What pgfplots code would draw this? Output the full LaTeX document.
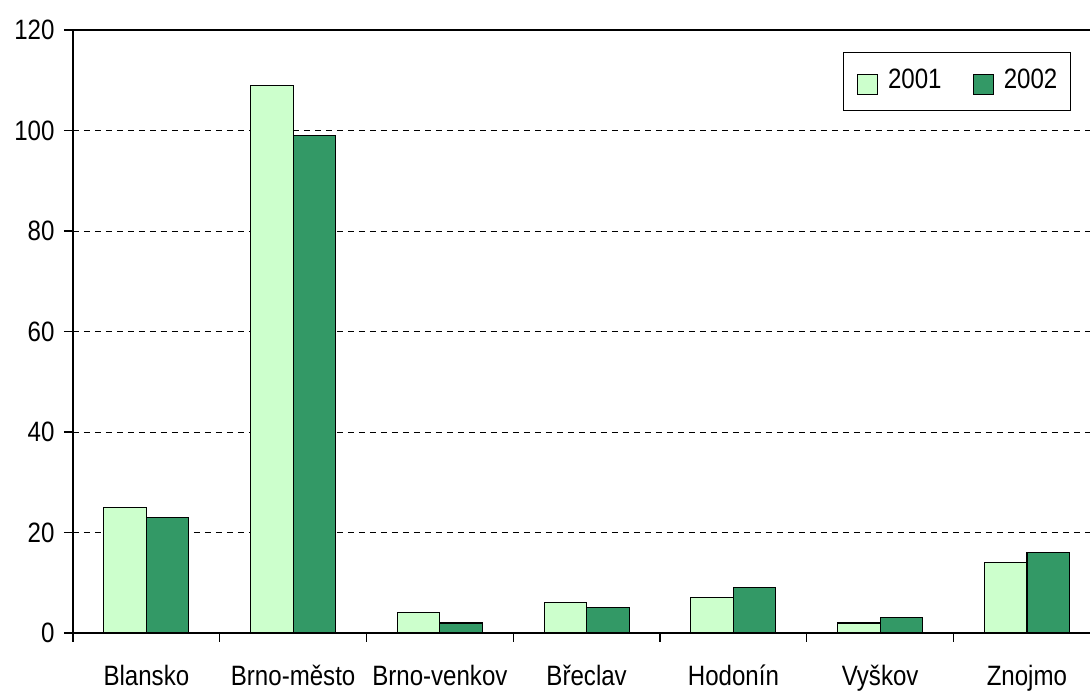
\documentclass[border=0pt]{standalone}
\usepackage{fontspec}
\setmainfont{Liberation Sans}[FakeStretch=0.86]
\usepackage{pgfplots}
\pgfplotsset{compat=1.18}
\definecolor{light}{HTML}{CCFFCC}
\definecolor{dark}{HTML}{339966}
\begin{document}
\begin{tikzpicture}[x=1pt,y=1pt]
\begin{axis}[
  scale only axis,
  width=1017pt, height=603pt,
  xmin=-0.5, xmax=6.43,
  ymin=0, ymax=120,
  ytick={0,20,...,120},
  axis x line*=bottom,
  axis y line*=left,
  axis line style={line width=1.6pt, -},
  tick align=outside,
  major tick length=9pt,
  tick style={line width=1.2pt, black},
  ymajorgrids,
  grid style={dashed, black, line width=0.7pt, dash pattern=on 6pt off 5pt},
  xtick={-0.5,0.5,...,5.5},
  xticklabels={},
  extra x ticks={0,1,2,3,4,5,6},
  extra x tick labels={Blansko,Brno-město,Brno-venkov,Břeclav,Hodonín,Vyškov,Znojmo},
  extra x tick style={major tick length=0pt, grid=none, tick label style={text height=21pt, text depth=6pt, yshift=-28pt}},
  /pgf/number format/assume math mode=true,
  ticklabel style={font=\fontsize{28}{32}\selectfont},
  yticklabel style={xshift=-6pt},
  ybar=0pt,
  bar width=42.5pt,
  legend style={at={(0.9813,0.9635)}, anchor=north east, legend columns=2,
    draw=black, line width=1.2pt, font=\fontsize{28}{32}\selectfont,
    inner xsep=13pt, inner ysep=16pt,
    nodes={inner sep=0pt},
    /tikz/every odd column/.append style={column sep=10pt},
    /tikz/every even column/.append style={column sep=31pt}},
  legend image code/.code={\draw[#1, line width=1.2pt] (0pt,-15pt) rectangle (20pt,5pt);},
  clip=false,
]
\addplot[fill=light, draw=black, line width=1.2pt] coordinates {(0,25) (1,109) (2,4) (3,6) (4,7) (5,2) (6,14)};
\addplot[fill=dark, draw=black, line width=1.2pt] coordinates {(0,23) (1,99) (2,2) (3,5) (4,9) (5,3) (6,16)};
\legend{2001,2002}
\draw[line width=1.6pt] (rel axis cs:0,1) -- (rel axis cs:1,1);
\coordinate (ll) at (rel axis cs:0,0);
\coordinate (ur) at (rel axis cs:1,1);
\end{axis}
\pgfresetboundingbox
\path ([xshift=-73pt,yshift=-62pt]ll) rectangle ([yshift=30pt]ur);
\end{tikzpicture}
\end{document}
